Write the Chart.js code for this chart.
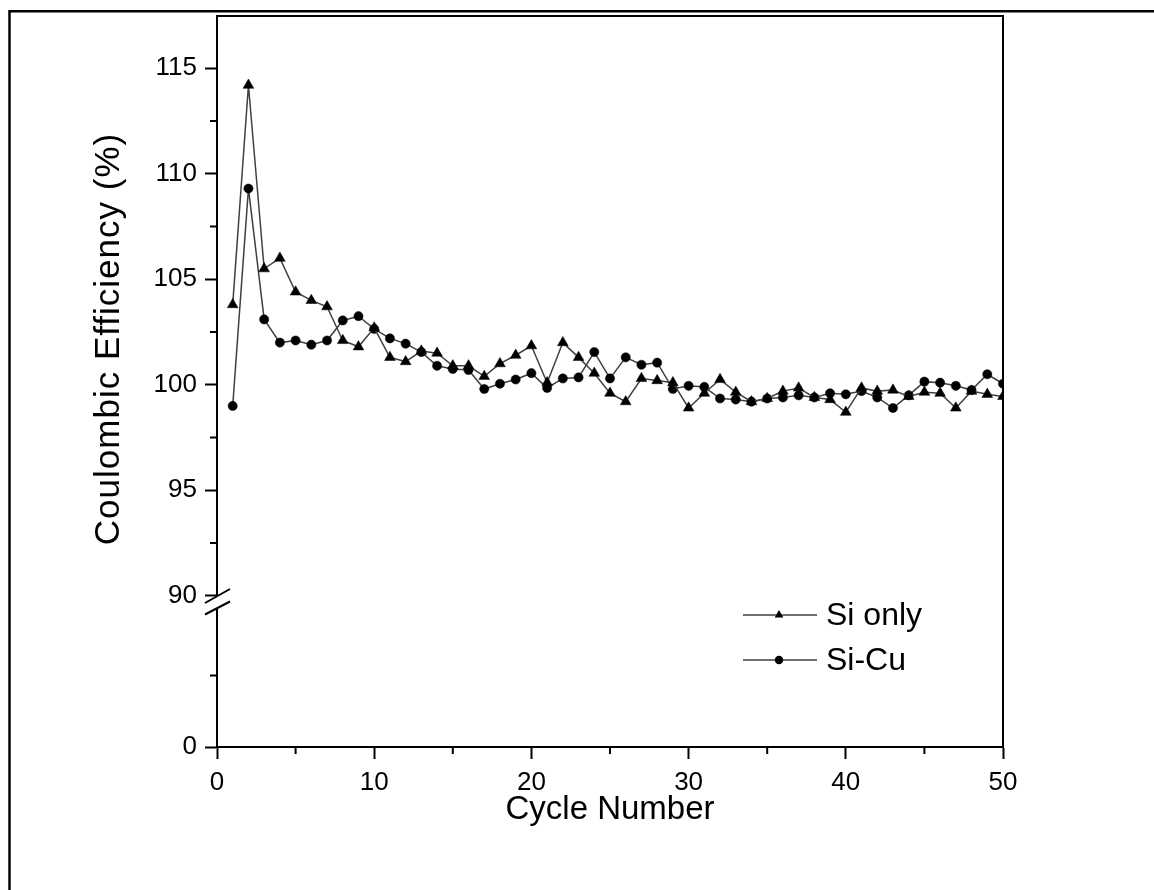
<!DOCTYPE html>
<html><head><meta charset="utf-8">
<script src="https://cdn.jsdelivr.net/npm/chart.js@4.4.0/dist/chart.umd.min.js"></script>
<style>html,body{margin:0;padding:0;background:#fff;}canvas{display:block}</style>
</head><body>
<canvas id="c" width="1154" height="890"></canvas>
<script>
const cycles = [1,2,3,4,5,6,7,8,9,10,11,12,13,14,15,16,17,18,19,20,21,22,23,24,25,26,27,28,29,30,31,32,33,34,35,36,37,38,39,40,41,42,43,44,45,46,47,48,49,50];
const siOnly = [103.8,114.2,105.5,106.0,104.4,104.0,103.7,102.1,101.8,102.7,101.3,101.1,101.6,101.5,100.9,100.9,100.4,101.0,101.4,101.85,100.1,102.0,101.3,100.55,99.6,99.2,100.3,100.2,100.1,98.9,99.6,100.25,99.65,99.2,99.35,99.7,99.85,99.4,99.3,98.7,99.85,99.7,99.75,99.45,99.65,99.6,98.9,99.7,99.55,99.45];
const siCu = [99.0,109.3,103.1,102.0,102.1,101.9,102.1,103.05,103.25,102.65,102.2,101.95,101.55,100.9,100.75,100.7,99.8,100.05,100.25,100.55,99.85,100.3,100.35,101.55,100.3,101.3,100.95,101.05,99.8,99.95,99.9,99.35,99.3,99.2,99.35,99.4,99.5,99.4,99.6,99.55,99.7,99.4,98.9,99.5,100.15,100.1,99.95,99.75,100.5,100.05];
const seriesNames = ['Si only', 'Si-Cu'];
const xTicks = [0,10,20,30,40,50];
const xMinorTicks = [5,15,25,35,45];
const yTicksUpper = [90,95,100,105,110,115];
const yMinorUpper = [92.5,97.5,102.5,107.5,112.5];
const yTicksLower = [0];
const yMinorLower = [1];
const xTitle = 'Cycle Number';
const yTitle = 'Coulombic Efficiency (%)';

const FONT = "'Liberation Sans', Arial, sans-serif";
const LINE = '#404040';

const decor = {
  id: 'decor',
  afterDraw(chart) {
    const ctx = chart.ctx;
    const xs = chart.scales.x, yu = chart.scales.y, yl = chart.scales.y0;
    const a = chart.chartArea;
    ctx.save();
    ctx.strokeStyle = '#000';
    ctx.lineWidth = 2;
    // minor ticks
    ctx.beginPath();
    xMinorTicks.forEach(v => { const p = xs.getPixelForValue(v); ctx.moveTo(p, xs.top); ctx.lineTo(p, xs.top + 7); });
    yMinorUpper.forEach(v => { const p = yu.getPixelForValue(v); ctx.moveTo(yu.right - 7, p); ctx.lineTo(yu.right, p); });
    yMinorLower.forEach(v => { const p = yl.getPixelForValue(v); ctx.moveTo(yl.right - 7, p); ctx.lineTo(yl.right, p); });
    ctx.stroke();
    // frame top/right
    ctx.beginPath();
    ctx.moveTo(a.left - 1, a.top); ctx.lineTo(a.right, a.top); ctx.lineTo(a.right, a.bottom);
    ctx.stroke();
    // axis break
    const bx = yu.right;
    ctx.fillStyle = '#fff';
    ctx.beginPath();
    ctx.moveTo(bx - 6, 599.2); ctx.lineTo(bx + 6, 592.5); ctx.lineTo(bx + 6, 605.2); ctx.lineTo(bx - 6, 611.9);
    ctx.closePath(); ctx.fill();
    ctx.beginPath();
    ctx.moveTo(bx - 12, 603); ctx.lineTo(bx + 13, 589);
    ctx.moveTo(bx - 12, 614.5); ctx.lineTo(bx + 13, 601.5);
    ctx.stroke();
    // legend
    const legY = [615, 660];
    ctx.font = '32px ' + FONT;
    ctx.textBaseline = 'middle';
    ctx.textAlign = 'left';
    legY.forEach((ly, i) => {
      ctx.strokeStyle = LINE; ctx.lineWidth = 1.3;
      ctx.beginPath(); ctx.moveTo(743, ly); ctx.lineTo(817, ly); ctx.stroke();
      ctx.fillStyle = '#000';
      ctx.beginPath();
      if (i === 0) {
        const r = 5;
        ctx.moveTo(779, ly - r); ctx.lineTo(779 + r * 0.866, ly + r / 2); ctx.lineTo(779 - r * 0.866, ly + r / 2);
        ctx.closePath();
      } else {
        ctx.arc(779, ly, 4.2, 0, Math.PI * 2);
      }
      ctx.fill();
      ctx.fillText(seriesNames[i], 826, ly + 1);
    });
    // y title
    ctx.save();
    ctx.translate(109, 339);
    ctx.rotate(-Math.PI / 2);
    ctx.font = '35px ' + FONT;
    ctx.letterSpacing = '1px';
    ctx.textAlign = 'center';
    ctx.textBaseline = 'middle';
    ctx.fillStyle = '#000';
    ctx.fillText(yTitle, 0, 0);
    ctx.restore();
    // outer border
    ctx.strokeStyle = '#000';
    ctx.lineWidth = 2.5;
    ctx.beginPath();
    ctx.moveTo(9.5, 900); ctx.lineTo(9.5, 11.2); ctx.lineTo(1160, 11.2);
    ctx.stroke();
    ctx.restore();
  }
};

const tickFont = { family: FONT, size: 26 };
const gridOpts = { drawOnChartArea: false, drawTicks: true, tickLength: 12, tickWidth: 2, tickColor: '#000' };
const borderOpts = { color: '#000', width: 2 };
const fitY = s => { s.width = 217; s.paddingTop = 0; s.paddingBottom = 0; };

new Chart(document.getElementById('c'), {
  type: 'line',
  data: {
    datasets: [
      { label: seriesNames[0], data: cycles.map((c, i) => ({ x: c, y: siOnly[i] })), yAxisID: 'y',
        borderColor: LINE, borderWidth: 1.5, pointStyle: 'triangle', pointRadius: 6.2,
        pointBackgroundColor: '#000', pointBorderColor: '#000', pointBorderWidth: 0.5, tension: 0, fill: false },
      { label: seriesNames[1], data: cycles.map((c, i) => ({ x: c, y: siCu[i] })), yAxisID: 'y',
        borderColor: LINE, borderWidth: 1.5, pointStyle: 'circle', pointRadius: 4.6,
        pointBackgroundColor: '#000', pointBorderColor: '#000', pointBorderWidth: 0.5, tension: 0, fill: false }
    ]
  },
  options: {
    responsive: false, animation: false, devicePixelRatio: 1,
    layout: { padding: { top: 16, right: 151, left: 0, bottom: 0 } },
    plugins: { legend: { display: false }, tooltip: { enabled: false } },
    scales: {
      x: {
        type: 'linear', min: 0, max: 50, position: 'bottom',
        afterBuildTicks: s => { s.ticks = xTicks.map(v => ({ value: v })); },
        afterFit: s => { s.height = 143; s.paddingLeft = 0; s.paddingRight = 0; },
        grid: gridOpts, border: borderOpts,
        ticks: { color: '#000', font: tickFont, padding: 8, maxRotation: 0, autoSkip: false },
        title: { display: true, text: xTitle, color: '#000', font: { family: FONT, size: 33 }, padding: { top: 0, bottom: 60 } }
      },
      y0: {
        type: 'linear', min: 0, max: 2, position: 'left', stack: 'left', stackWeight: 143,
        afterBuildTicks: s => { s.ticks = yTicksLower.map(v => ({ value: v })); },
        afterFit: fitY,
        grid: gridOpts, border: borderOpts,
        ticks: { color: '#000', font: tickFont, padding: 8, autoSkip: false }
      },
      y: {
        type: 'linear', min: 89.61, max: 117.48, position: 'left', stack: 'left', stackWeight: 588,
        afterBuildTicks: s => { s.ticks = yTicksUpper.map(v => ({ value: v })); },
        afterFit: fitY,
        grid: gridOpts, border: borderOpts,
        ticks: { color: '#000', font: tickFont, padding: 8, autoSkip: false }
      }
    }
  },
  plugins: [decor]
});
</script>
</body></html>
